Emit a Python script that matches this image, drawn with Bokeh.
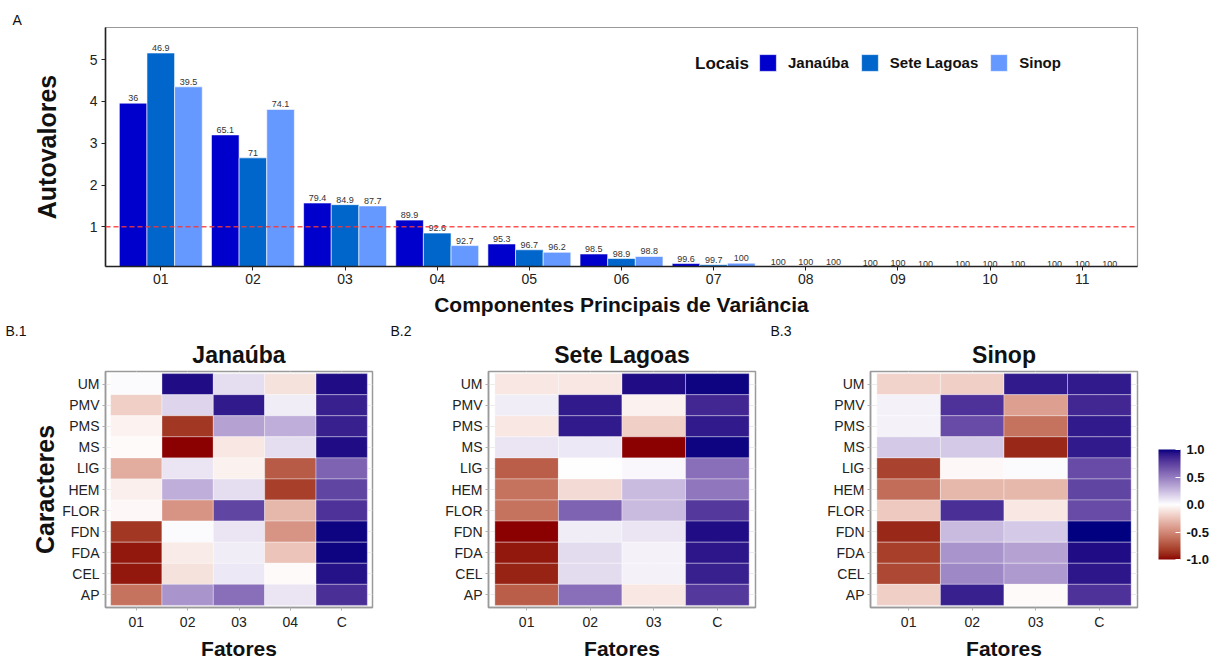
import numpy as np
from bokeh.plotting import figure
from bokeh.models import (ColumnDataSource, FixedTicker, Legend, LegendItem, Label, Span,
                          LinearColorMapper, ColorBar, PrintfTickFormatter, Title)
from bokeh.layouts import column, row
from bokeh.embed import file_html
from bokeh.resources import INLINE
from bokeh.core.properties import value

FONT = "Liberation Sans"

# ---------------------------------------------------------------- data
componentes = ["01", "02", "03", "04", "05", "06", "07", "08", "09", "10", "11"]
locais = ["Janaúba", "Sete Lagoas", "Sinop"]
cores_locais = ["#0000CC", "#0066CC", "#6699FF"]

# eigenvalues per principal component
autovalores_janauba = [3.96, 3.20, 1.57, 1.16, 0.59, 0.35, 0.12, 0.04, 0.01, 0.0, 0.0]
autovalores_sete = [5.16, 2.65, 1.53, 0.85, 0.45, 0.24, 0.09, 0.035, 0.005, 0.0, 0.0]
autovalores_sinop = [4.35, 3.81, 1.50, 0.55, 0.39, 0.29, 0.13, 0.03, 0.0, 0.0, 0.0]

# cumulative explained variance (%)
acumulado_janauba = [36, 65.1, 79.4, 89.9, 95.3, 98.5, 99.6, 100, 100, 100, 100]
acumulado_sete = [46.9, 71, 84.9, 92.6, 96.7, 98.9, 99.7, 100, 100, 100, 100]
acumulado_sinop = [39.5, 74.1, 87.7, 92.7, 96.2, 98.8, 100, 100, 100, 100, 100]

caracteres = ["UM", "PMV", "PMS", "MS", "LIG", "HEM", "FLOR", "FDN", "FDA", "CEL", "AP"]

fatores_janauba = ["01", "02", "03", "04", "C"]
cargas_janauba = [
    [0.02, 0.95, 0.12, -0.12, 0.95],
    [-0.20, 0.15, 0.90, 0.07, 0.88],
    [-0.05, -0.85, 0.35, 0.30, 0.88],
    [-0.02, -1.00, -0.10, 0.12, 0.95],
    [-0.35, 0.10, -0.06, -0.70, 0.60],
    [-0.07, 0.30, 0.12, -0.82, 0.72],
    [-0.03, -0.45, 0.72, -0.30, 0.80],
    [-0.85, 0.02, 0.10, -0.45, 0.98],
    [-0.95, -0.08, 0.07, -0.25, 0.98],
    [-0.95, -0.12, 0.08, -0.02, 0.93],
    [-0.60, 0.40, 0.55, 0.10, 0.82],
]

fatores_sete = ["01", "02", "03", "C"]
cargas_sete = [
    [-0.10, -0.10, 0.95, 0.98],
    [0.07, 0.90, -0.06, 0.85],
    [-0.10, 0.90, -0.20, 0.90],
    [0.10, 0.08, -1.00, 0.98],
    [-0.68, 0.00, 0.03, 0.55],
    [-0.60, -0.15, 0.25, 0.52],
    [-0.60, 0.60, 0.25, 0.78],
    [-1.00, 0.07, 0.10, 0.95],
    [-0.95, 0.13, 0.05, 0.92],
    [-0.92, 0.13, 0.05, 0.88],
    [-0.68, 0.55, -0.10, 0.78],
]

fatores_sinop = ["01", "02", "03", "C"]
cargas_sinop = [
    [-0.18, -0.20, 0.90, 0.90],
    [0.05, 0.80, -0.40, 0.85],
    [0.05, 0.70, -0.60, 0.90],
    [0.20, 0.20, -0.90, 0.90],
    [-0.80, -0.03, 0.02, 0.70],
    [-0.62, -0.30, -0.30, 0.72],
    [-0.22, 0.82, -0.10, 0.70],
    [-0.90, 0.25, 0.20, 1.00],
    [-0.82, 0.40, 0.35, 0.95],
    [-0.78, 0.45, 0.38, 0.92],
    [-0.20, 0.88, -0.02, 0.80],
]


# ---------------------------------------------------------------- diverging palette (Lab interpolation)
def _hex_rgb(h):
    return [int(h[i:i + 2], 16) / 255 for i in (1, 3, 5)]


def _lin(c):
    return c / 12.92 if c <= 0.04045 else ((c + 0.055) / 1.055) ** 2.4


def _delin(c):
    return 12.92 * c if c <= 0.0031308 else 1.055 * c ** (1 / 2.4) - 0.055


def hex_to_lab(h):
    r, g, b = [_lin(c) for c in _hex_rgb(h)]
    X = 0.4124 * r + 0.3576 * g + 0.1805 * b
    Y = 0.2126 * r + 0.7152 * g + 0.0722 * b
    Z = 0.0193 * r + 0.1192 * g + 0.9505 * b

    def f(t):
        return t ** (1 / 3) if t > (6 / 29) ** 3 else t / (3 * (6 / 29) ** 2) + 4 / 29

    fx, fy, fz = f(X / 0.95047), f(Y / 1.0), f(Z / 1.08883)
    return np.array([116 * fy - 16, 500 * (fx - fy), 200 * (fy - fz)])


def lab_to_hex(lab):
    L, a, b = lab
    fy = (L + 16) / 116
    fx = fy + a / 500
    fz = fy - b / 200

    def finv(t):
        return t ** 3 if t > 6 / 29 else 3 * (6 / 29) ** 2 * (t - 4 / 29)

    X, Y, Z = 0.95047 * finv(fx), finv(fy), 1.08883 * finv(fz)
    r = 3.2406 * X - 1.5372 * Y - 0.4986 * Z
    g = -0.9689 * X + 1.8758 * Y + 0.0415 * Z
    bb = 0.0557 * X - 0.2040 * Y + 1.0570 * Z
    rgb = [_delin(min(max(c, 0.0), 1.0)) for c in (r, g, bb)]
    return "#%02x%02x%02x" % tuple(int(round(min(max(c, 0), 1) * 255)) for c in rgb)


low_lab, mid_lab, high_lab = hex_to_lab("#8B0000"), hex_to_lab("#FFFFFF"), hex_to_lab("#000080")
paleta = []
for t in np.linspace(-1, 1, 256):
    if t < 0:
        paleta.append(lab_to_hex(low_lab + (mid_lab - low_lab) * (t + 1)))
    else:
        paleta.append(lab_to_hex(mid_lab + (high_lab - mid_lab) * t))
mapper = LinearColorMapper(palette=paleta, low=-1, high=1)


def marca_painel(texto, deslocamento, afastamento=0):
    return Title(text=texto, align="left", offset=deslocamento, text_font=FONT,
                 text_font_style="normal", text_font_size="14px", text_color="#111111",
                 standoff=afastamento)


# ---------------------------------------------------------------- A: eigenvalue bars
p = figure(width=1220, height=318, x_range=(0.4, 11.6), y_range=(0.05, 5.77),
           output_backend="svg", toolbar_location=None,
           min_border_left=105, min_border_right=83, min_border_top=27, min_border_bottom=52)

xpos = np.arange(1, len(componentes) + 1)
deslocamentos = [-0.3, 0.0, 0.3]
series = [(autovalores_janauba, acumulado_janauba),
          (autovalores_sete, acumulado_sete),
          (autovalores_sinop, acumulado_sinop)]
itens = []
for nome, cor, (eig, acum), dx in zip(locais, cores_locais, series, deslocamentos):
    src = ColumnDataSource(dict(x=xpos + dx, top=eig, rotulo=[f"{v:g}" for v in acum]))
    r = p.vbar(x="x", top="top", bottom=0, width=0.3, source=src,
               fill_color=cor, line_color="white", line_width=0.6)
    p.text(x="x", y="top", text="rotulo", source=src, text_align="center",
           text_baseline="bottom", y_offset=-2, text_font_size="9px",
           text_color="#333333", text_font=value(FONT))
    itens.append(LegendItem(label=nome, renderers=[r]))

p.add_layout(Span(location=1, dimension="width", line_color="#FF3333", line_alpha=0.85,
                  line_dash="5 3", line_width=1.5))

leg = Legend(items=itens, orientation="horizontal", location=(652, 193),
             glyph_width=21, glyph_height=21, label_standoff=10, spacing=10,
             padding=0, margin=0, border_line_color=None, background_fill_alpha=0,
             label_text_font=FONT, label_text_font_style="bold", label_text_font_size="15px",
             label_text_color="#111111", label_height=21)
p.add_layout(leg, "center")
p.add_layout(Label(x=7.09, y=4.92, text="Locais", text_align="center", text_baseline="middle",
                   text_font=FONT, text_font_style="bold", text_font_size="17px",
                   text_color="#111111"))
p.add_layout(marca_painel("A", -93), "above")

p.xaxis.ticker = FixedTicker(ticks=list(xpos))
p.xaxis.major_label_overrides = {int(i): c for i, c in zip(xpos, componentes)}
p.yaxis.ticker = FixedTicker(ticks=[1, 2, 3, 4, 5])
p.xaxis.axis_label = "Componentes Principais de Variância"
p.yaxis.axis_label = "Autovalores"
for ax in (p.xaxis, p.yaxis):
    ax.axis_line_color = "#222222"
    ax.axis_line_width = 1.6
    ax.major_tick_line_color = "#222222"
    ax.major_tick_out = 4
    ax.major_tick_in = 0
    ax.minor_tick_line_color = None
    ax.major_label_text_font = FONT
    ax.major_label_text_font_size = "14px"
    ax.major_label_text_color = "#222222"
    ax.axis_label_text_font = FONT
    ax.axis_label_text_font_style = "bold"
    ax.axis_label_text_color = "#111111"
p.xaxis.axis_label_text_font_size = "21px"
p.yaxis.axis_label_text_font_size = "25px"
p.yaxis.axis_label_standoff = 26
p.xaxis.axis_label_standoff = 6
p.xaxis.major_label_standoff = 3
p.yaxis.major_label_standoff = 4
p.grid.grid_line_color = None
p.outline_line_color = "#9a9a9a"
p.outline_line_width = 1.2


# ---------------------------------------------------------------- B: loading heatmaps
def mapa(titulo, marca, fatores, cargas, largura, borda_esq, borda_dir, rotulo_y=False,
         barra=False):
    n = len(fatores)
    h = figure(width=largura, height=344, x_range=(0.4, n + 0.6), y_range=(0.4, 11.6),
               output_backend="svg", toolbar_location=None,
               min_border_left=borda_esq, min_border_right=borda_dir,
               min_border_top=53, min_border_bottom=51)
    xs, ys, vs = [], [], []
    for i, linha in enumerate(cargas):
        for j, v in enumerate(linha):
            xs.append(j + 1)
            ys.append(len(caracteres) - i)
            vs.append(v)
    src = ColumnDataSource(dict(x=xs, y=ys, v=vs))
    h.rect(x="x", y="y", width=1, height=1, source=src,
           fill_color={"field": "v", "transform": mapper},
           line_color="white", line_alpha=0.35, line_width=1)

    h.xaxis.ticker = FixedTicker(ticks=list(range(1, n + 1)))
    h.xaxis.major_label_overrides = {j + 1: f for j, f in enumerate(fatores)}
    h.yaxis.ticker = FixedTicker(ticks=list(range(1, len(caracteres) + 1)))
    h.yaxis.major_label_overrides = {len(caracteres) - i: c for i, c in enumerate(caracteres)}
    h.xaxis.axis_label = "Fatores"
    if rotulo_y:
        h.yaxis.axis_label = "Caracteres"
    for ax in (h.xaxis, h.yaxis):
        ax.axis_line_color = "#9a9a9a"
        ax.axis_line_width = 1.5
        ax.major_tick_line_color = "#b0b0b0"
        ax.major_tick_out = 3
        ax.major_tick_in = 0
        ax.minor_tick_line_color = None
        ax.major_label_text_font = FONT
        ax.major_label_text_font_size = "14px"
        ax.major_label_text_color = "#222222"
        ax.axis_label_text_font = FONT
        ax.axis_label_text_font_style = "bold"
        ax.axis_label_text_color = "#111111"
    h.xaxis.axis_label_text_font_size = "21px"
    h.yaxis.axis_label_text_font_size = "25px"
    h.yaxis.axis_label_standoff = 0
    h.xaxis.axis_label_standoff = 4
    h.xaxis.major_label_standoff = 3
    h.yaxis.major_label_standoff = 3
    h.grid.grid_line_color = "#ececec"
    h.outline_line_color = "#9a9a9a"
    h.outline_line_width = 1.5

    h.add_layout(Title(text=titulo, align="center", text_font=FONT, text_font_style="bold",
                       text_font_size="23px", text_color="#111111", standoff=8), "above")
    h.add_layout(marca_painel(marca, 5 - borda_esq, -7), "above")
    if barra:
        cb = ColorBar(color_mapper=mapper, width=22, height=110, location=(21, 48),
                      ticker=FixedTicker(ticks=[-1, -0.5, 0, 0.5, 1]),
                      formatter=PrintfTickFormatter(format="%.1f"),
                      major_label_text_font=FONT, major_label_text_font_style="bold",
                      major_label_text_font_size="13px", major_label_text_color="#111111",
                      major_tick_line_color="white", major_tick_in=5, major_tick_out=0,
                      label_standoff=6, bar_line_color=None, border_line_color=None,
                      background_fill_alpha=0, padding=0)
        h.add_layout(cb, "right")
    return h


h1 = mapa("Janaúba", "B.1", fatores_janauba, cargas_janauba, 385, 105, 13, rotulo_y=True)
h2 = mapa("Sete Lagoas", "B.2", fatores_sete, cargas_sete, 380, 103, 10)
h3 = mapa("Sinop", "B.3", fatores_sinop, cargas_sinop, 455, 105, 83, barra=True)

layout = column(p, row(h1, h2, h3, spacing=0), spacing=0)
open("out.html", "w").write(file_html(layout, INLINE))
